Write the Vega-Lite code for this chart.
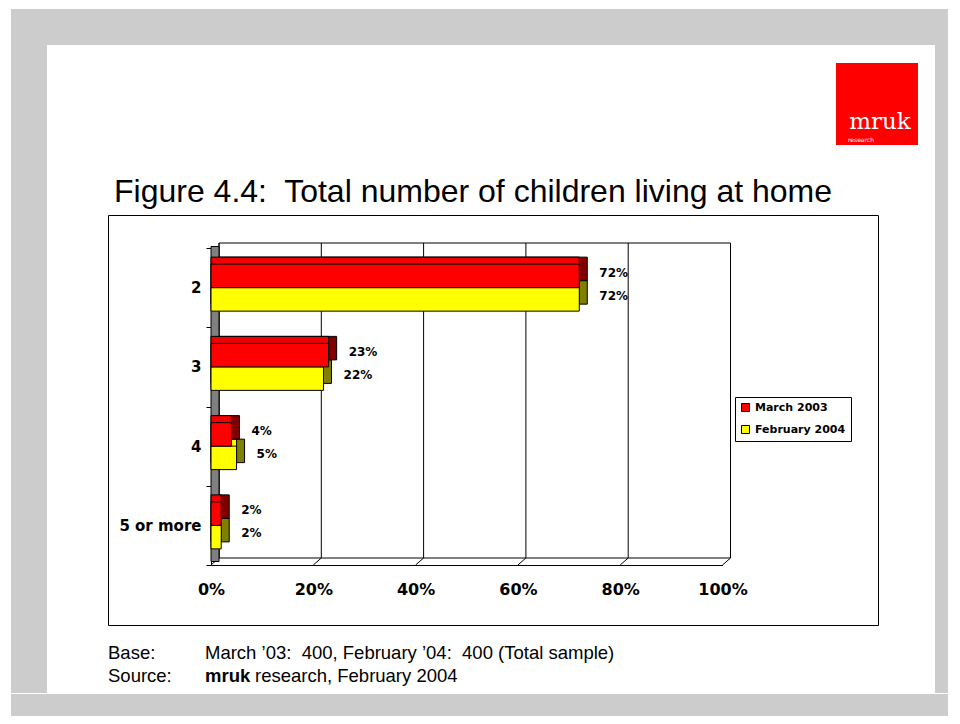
{
  "$schema": "https://vega.github.io/schema/vega-lite/v6.json",
  "background": "white",
  "padding": {"left": 11, "top": 9, "right": 0, "bottom": 0},
  "spacing": 0,
  "config": {
    "view": {"stroke": null},
    "concat": {"spacing": 0},
    "font": "Liberation Sans"
  },
  "datasets": {
    "bars": [
      {"cat": "2", "series": "March 2003", "value": 0.72},
      {"cat": "2", "series": "February 2004", "value": 0.72},
      {"cat": "3", "series": "March 2003", "value": 0.23},
      {"cat": "3", "series": "February 2004", "value": 0.22},
      {"cat": "4", "series": "March 2003", "value": 0.04},
      {"cat": "4", "series": "February 2004", "value": 0.05},
      {"cat": "5 or more", "series": "March 2003", "value": 0.02},
      {"cat": "5 or more", "series": "February 2004", "value": 0.02}
    ],
    "ticks": [{"tick": 0}, {"tick": 0.2}, {"tick": 0.4}, {"tick": 0.6}, {"tick": 0.8}, {"tick": 1}]
  },
  "vconcat": [
    {"width": 937, "height": 36, "view": {"fill": "#cccccc", "stroke": null}, "data": {"values": [{}]}, "mark": {"type": "point", "opacity": 0}, "encoding": {}},
    {
      "spacing": 0,
      "hconcat": [
        {"width": 36, "height": 648, "view": {"fill": "#cccccc", "stroke": null}, "data": {"values": [{}]}, "mark": {"type": "point", "opacity": 0}, "encoding": {}},
        {
          "spacing": 0,
          "vconcat": [
            {
              "spacing": 0,
              "hconcat": [
                {"width": 789, "height": 130, "data": {"values": [{}]}, "mark": {"type": "point", "opacity": 0}, "encoding": {}},
                {
                  "spacing": 0,
                  "vconcat": [
                    {"width": 82, "height": 18, "data": {"values": [{}]}, "mark": {"type": "point", "opacity": 0}, "encoding": {}},
                    {
                      "width": 82, "height": 82,
                      "view": {"fill": "#ff0000", "stroke": null},
                      "data": {"values": [{"brand": "mruk", "sub": "research"}]},
                      "layer": [
                        {"mark": {"type": "text", "font": "DejaVu Serif", "fontSize": 23, "color": "white", "align": "center", "baseline": "alphabetic", "dx": 3, "dy": 25}, "encoding": {"text": {"field": "brand"}}},
                        {"mark": {"type": "text", "font": "DejaVu Sans", "fontSize": 6, "color": "white", "align": "left", "baseline": "alphabetic", "dx": -29, "dy": 38}, "encoding": {"text": {"field": "sub"}}}
                      ]
                    },
                    {"width": 82, "height": 30, "data": {"values": [{}]}, "mark": {"type": "point", "opacity": 0}, "encoding": {}}
                  ]
                },
                {"width": 17, "height": 130, "data": {"values": [{}]}, "mark": {"type": "point", "opacity": 0}, "encoding": {}}
              ]
            },
            {
              "spacing": 0,
              "hconcat": [
                {"width": 60, "height": 410, "data": {"values": [{}]}, "mark": {"type": "point", "opacity": 0}, "encoding": {}},
                {
                  "width": 770, "height": 410,
                  "view": {"stroke": "black", "strokeWidth": 1, "fill": "white"},
                  "title": {"text": "Figure 4.4:\u00a0 Total number of children living at home", "anchor": "start", "font": "Liberation Sans", "fontSize": 32, "fontWeight": "normal", "color": "black", "baseline": "bottom", "offset": -33, "dx": 6},
                  "resolve": {"scale": {"x": "independent", "y": "independent"}},
                  "layer": [
                    {
                      "layer": [
                        {
                          "data": {"values": [{}]},
                          "mark": {"type": "rect", "fill": "white", "stroke": "black", "strokeWidth": 1},
                          "encoding": {
                            "x": {"datum": 0, "type": "quantitative", "scale": {"domain": [0, 1], "range": [111, 622.5], "nice": false, "zero": false}, "axis": null},
                            "x2": {"datum": 1},
                            "y": {"datum": 0, "type": "quantitative", "scale": {"domain": [0, 1], "range": [28, 343], "nice": false, "zero": false}, "axis": null},
                            "y2": {"datum": 1}
                          }
                        },
                        {
                          "data": {"name": "ticks"},
                          "mark": {"type": "rule", "color": "black", "strokeWidth": 1},
                          "encoding": {
                            "x": {"field": "tick", "type": "quantitative", "scale": {"domain": [0, 1], "range": [111, 622.5], "nice": false, "zero": false}, "axis": null},
                            "y": {"datum": 0, "type": "quantitative", "scale": {"domain": [0, 1], "range": [28, 343], "nice": false, "zero": false}, "axis": null},
                            "y2": {"datum": 1}
                          }
                        },
                        {
                          "data": {"name": "ticks"},
                          "mark": {"type": "rule", "color": "black", "strokeWidth": 1, "x2Offset": -8, "y2Offset": 7},
                          "encoding": {
                            "x": {"field": "tick", "type": "quantitative", "scale": {"domain": [0, 1], "range": [111, 622.5], "nice": false, "zero": false}, "axis": null},
                            "x2": {"field": "tick"},
                            "y": {"datum": 1, "type": "quantitative", "scale": {"domain": [0, 1], "range": [28, 343], "nice": false, "zero": false}, "axis": null},
                            "y2": {"datum": 1}
                          }
                        },
                        {
                          "data": {"values": [{}]},
                          "mark": {"type": "rect", "fill": "#808080", "stroke": "black", "strokeWidth": 1, "xOffset": -8, "yOffset": 3.5, "y2Offset": 3.5},
                          "encoding": {
                            "x": {"datum": 0, "type": "quantitative", "scale": {"domain": [0, 1], "range": [111, 622.5], "nice": false, "zero": false}, "axis": null},
                            "x2": {"datum": 0},
                            "y": {"datum": 0, "type": "quantitative", "scale": {"domain": [0, 1], "range": [28, 343], "nice": false, "zero": false}, "axis": null},
                            "y2": {"datum": 1}
                          }
                        }
                      ]
                    },
                    {
                      "data": {"name": "bars"},
                      "encoding": {
                        "y": {
                          "field": "cat", "type": "nominal",
                          "scale": {"domain": ["2", "3", "4", "5 or more"], "range": [33, 350], "paddingInner": 0, "paddingOuter": 0},
                          "axis": {"orient": "left", "offset": -103, "title": null, "tickBand": "extent", "ticks": true, "tickSize": 5, "tickColor": "black", "tickWidth": 1, "domainColor": "black", "domainWidth": 1, "labelFont": "DejaVu Sans", "labelFontWeight": "bold", "labelFontSize": 15, "labelColor": "black", "labelPadding": 5, "grid": false}
                        },
                        "x": {
                          "field": "value", "type": "quantitative",
                          "scale": {"domain": [0, 1], "range": [103, 614.5], "nice": false, "zero": false},
                          "axis": {"orient": "bottom", "offset": -60, "title": null, "format": ".0%", "values": [0, 0.2, 0.4, 0.6, 0.8, 1], "ticks": false, "grid": false, "domainColor": "black", "domainWidth": 1, "labelFont": "DejaVu Sans", "labelFontWeight": "bold", "labelFontSize": 16, "labelColor": "black", "labelPadding": 16, "labelFlush": false, "labelOverlap": false}
                        }
                      },
                      "layer": [
                        {"transform": [{"filter": "datum.series === 'February 2004'"}], "mark": {"type": "bar", "height": 23.5, "yOffset": 4.75, "xOffset": 8, "x2Offset": 8, "fill": "#808000", "stroke": "black", "strokeWidth": 1}},
                        {"transform": [{"filter": "datum.series === 'February 2004'"}], "mark": {"type": "bar", "height": 23.5, "yOffset": 4.75, "xOffset": 0, "x2Offset": 8, "fill": "#ffff00", "stroke": "black", "strokeWidth": 1}},
                        {"transform": [{"filter": "datum.series === 'February 2004'"}], "mark": {"type": "bar", "height": 23.5, "yOffset": 11.75, "stroke": "black", "strokeWidth": 1},
                          "encoding": {"color": {"field": "series", "type": "nominal", "scale": {"domain": ["March 2003", "February 2004"], "range": ["#ff0000", "#ffff00"]},
                            "legend": {"orient": "none", "legendX": 724, "legendY": 388, "title": null, "symbolType": "square", "symbolSize": 64, "symbolStrokeColor": "black", "symbolStrokeWidth": 1, "labelFont": "DejaVu Sans", "labelFontWeight": "bold", "labelFontSize": 11, "labelColor": "black", "labelOffset": 4, "strokeColor": "black", "fillColor": "white", "padding": 5, "rowPadding": 9}}}},
                        {"transform": [{"filter": "datum.series === 'March 2003'"}], "mark": {"type": "bar", "height": 23.5, "yOffset": -18.75, "xOffset": 8, "x2Offset": 8, "fill": "#800000", "stroke": "black", "strokeWidth": 1}},
                        {"transform": [{"filter": "datum.series === 'March 2003'"}], "mark": {"type": "bar", "height": 23.5, "yOffset": -18.75, "xOffset": 0, "x2Offset": 8, "fill": "#f00000", "stroke": "black", "strokeWidth": 1}},
                        {"transform": [{"filter": "datum.series === 'March 2003'"}], "mark": {"type": "bar", "height": 23.5, "yOffset": -11.75, "stroke": "black", "strokeWidth": 1},
                          "encoding": {"color": {"field": "series", "type": "nominal", "scale": {"domain": ["March 2003", "February 2004"], "range": ["#ff0000", "#ffff00"]}}}},
                        {"transform": [{"filter": "datum.series === 'March 2003'"}], "mark": {"type": "text", "align": "left", "baseline": "middle", "dx": 20, "yOffset": -15, "font": "DejaVu Sans", "fontWeight": "bold", "fontSize": 12, "color": "black"},
                          "encoding": {"text": {"field": "value", "type": "quantitative", "format": ".0%"}}},
                        {"transform": [{"filter": "datum.series === 'February 2004'"}], "mark": {"type": "text", "align": "left", "baseline": "middle", "dx": 20, "yOffset": 8, "font": "DejaVu Sans", "fontWeight": "bold", "fontSize": 12, "color": "black"},
                          "encoding": {"text": {"field": "value", "type": "quantitative", "format": ".0%"}}}
                      ]
                    }
                  ]
                }
              ]
            },
            {
              "width": 888, "height": 68,
              "data": {"values": [
                {"line": "Base", "col": "a", "part": "label", "text": "Base:"},
                {"line": "Base", "col": "b", "part": "body", "text": "March ’03:\u00a0 400, February ’04:\u00a0 400 (Total sample)"},
                {"line": "Source", "col": "a", "part": "label", "text": "Source:"},
                {"line": "Source", "col": "b", "part": "brand", "text": "mruk"},
                {"line": "Source", "col": "b", "part": "rest", "text": "research, February 2004"}
              ]},
              "encoding": {
                "x": {"field": "col", "type": "nominal", "scale": {"type": "point", "domain": ["a", "b"], "range": [61, 158], "padding": 0}, "axis": null},
                "y": {"field": "line", "type": "nominal", "scale": {"type": "point", "domain": ["Base", "Source"], "range": [33, 56], "padding": 0}, "axis": null},
                "text": {"field": "text"}
              },
              "layer": [
                {"transform": [{"filter": "datum.part === 'label' || datum.part === 'body'"}], "mark": {"type": "text", "align": "left", "baseline": "alphabetic", "font": "Liberation Sans", "fontSize": 18.5, "color": "black"}},
                {"transform": [{"filter": "datum.part === 'brand'"}], "mark": {"type": "text", "align": "left", "baseline": "alphabetic", "font": "Liberation Sans", "fontWeight": "bold", "fontSize": 18.5, "color": "black"}},
                {"transform": [{"filter": "datum.part === 'rest'"}], "mark": {"type": "text", "align": "left", "baseline": "alphabetic", "font": "Liberation Sans", "fontSize": 18.5, "color": "black", "dx": 50}}
              ]
            }
          ]
        },
        {"width": 13, "height": 648, "view": {"fill": "#cccccc", "stroke": null}, "data": {"values": [{}]}, "mark": {"type": "point", "opacity": 0}, "encoding": {}}
      ]
    },
    {"width": 937, "height": 22, "view": {"fill": "#cccccc", "stroke": null}, "data": {"values": [{}]}, "mark": {"type": "point", "opacity": 0}, "encoding": {}}
  ]
}
